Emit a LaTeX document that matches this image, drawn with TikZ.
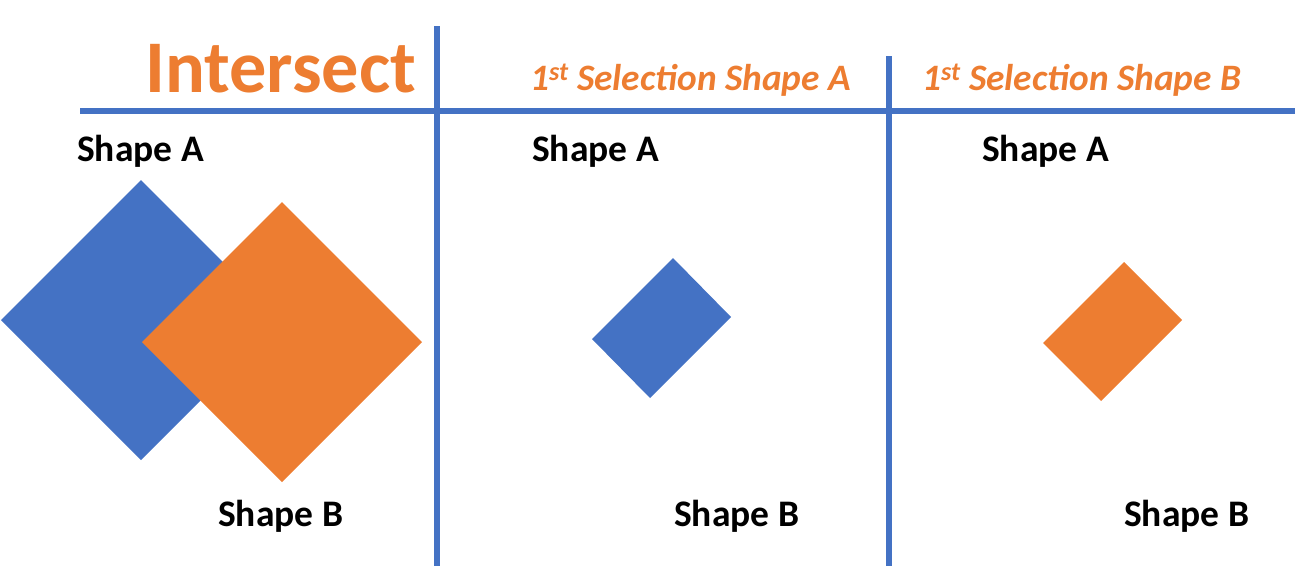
\documentclass[tikz,border=0pt]{standalone}
\usepackage{fontspec}
\setmainfont{Carlito}
\definecolor{msblue}{HTML}{4472C4}
\definecolor{msorange}{HTML}{ED7D31}
\tikzset{
  rule/.style={draw=msblue, line width=6.5pt},
  lbl/.style={anchor=base west, inner sep=0pt, font=\fontsize{37.5}{42}\selectfont\bfseries, text=black},
  ttl/.style={anchor=base west, inner sep=0pt, font=\fontsize{37.3}{42}\selectfont\bfseries\itshape, text=msorange},
  big/.style={anchor=base west, inner sep=0pt, font=\fontsize{74.3}{84}\selectfont\bfseries, text=msorange},
  bluefill/.style={fill=msblue},
  orangefill/.style={fill=msorange}
}
\begin{document}
\begin{tikzpicture}[x=1pt,y=-1pt]
\useasboundingbox (0,0) rectangle (1295,566);
% rules
\coordinate (h1) at (80,111);
\coordinate (h2) at (1295,111);
\coordinate (v1t) at (437,26);
\coordinate (v1b) at (437,566);
\coordinate (v2t) at (889,56);
\coordinate (v2b) at (889,566);
\draw[rule] (h1) -- (h2);
\draw[rule] (v1t) -- (v1b);
\draw[rule] (v2t) -- (v2b);
% titles
\node[big] (title) at (145,92) {Intersect};
\node[ttl] (tA) at (530,90) {1\textsuperscript{st} Selection Shape A};
\node[ttl] (tB) at (922,90) {1\textsuperscript{st} Selection Shape B};
% panel 1
\fill[bluefill] (141,180) -- (281,320) -- (141,460) -- (1,320) -- cycle;
\fill[orangefill] (282,202) -- (422,342) -- (282,482) -- (142,342) -- cycle;
\node[lbl] (a1) at (77,161) {Shape A};
\node[lbl] (b1) at (218,526) {Shape B};
% panel 2
\fill[bluefill] (673,258) -- (731,317) -- (650,398) -- (592,339) -- cycle;
\node[lbl] (a2) at (532,161) {Shape A};
\node[lbl] (b2) at (674,526) {Shape B};
% panel 3
\fill[orangefill] (1124,262) -- (1182,320) -- (1101,401) -- (1043,343) -- cycle;
\node[lbl] (a3) at (982,161) {Shape A};
\node[lbl] (b3) at (1124,526) {Shape B};
\end{tikzpicture}
\end{document}
